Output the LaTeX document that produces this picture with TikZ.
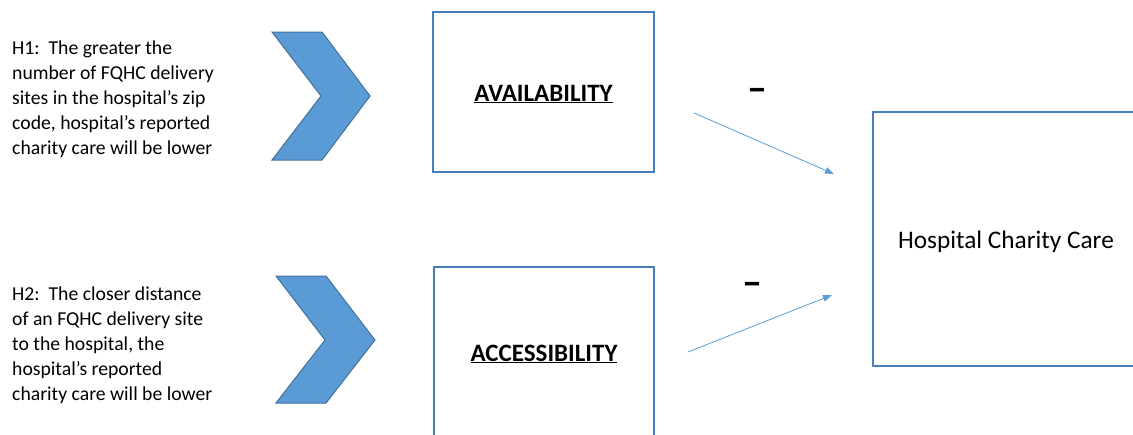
\documentclass[tikz,border=0pt]{standalone}
\usepackage{fontspec}
\setmainfont{Carlito}
\usetikzlibrary{arrows.meta}
\definecolor{boxblue}{HTML}{4A7EBB}
\definecolor{chevfill}{HTML}{5B9BD5}
\definecolor{chevline}{HTML}{41719C}
\definecolor{arrowblue}{HTML}{5B9BD5}
\begin{document}
\begin{tikzpicture}[x=1pt,y=-1pt,
  box/.style={draw=boxblue,line width=1.6pt,fill=none,inner sep=0pt},
  chev/.style={fill=chevfill,draw=chevline,line width=1pt,line join=miter},
  hyp/.style={anchor=north west,inner sep=0pt,align=left,font=\fontsize{19.7}{25}\selectfont},
  title/.style={inner sep=0pt,font=\fontsize{25}{30}\selectfont\bfseries},
  minus/.style={inner sep=0pt,font=\fontsize{40}{40}\selectfont\bfseries},
  link/.style={draw=arrowblue,line width=0.8pt,-{Triangle[length=9pt,width=6.5pt]}}]
\useasboundingbox (0,0) rectangle (1133,434);
\clip (0,0) rectangle (1133,434);
% hypotheses
\node[hyp] (h1) at (12,41) {H1:\ \ The greater the\\number of FQHC delivery\\sites in the hospital’s zip\\code, hospital’s reported\\charity care will be lower};
\node[hyp] (h2) at (12,287) {H2:\ \ The closer distance\\of an FQHC delivery site\\to the hospital, the\\hospital’s reported\\charity care will be lower};
% chevrons
\draw[chev] (272,32) -- (322,32) -- (370,96) -- (322,160) -- (272,160) -- (321,96) -- cycle;
\draw[chev] (276,276) -- (326,276) -- (375,340) -- (326,403) -- (276,403) -- (325,340) -- cycle;
% boxes
\node[box,minimum width=221pt,minimum height=160pt] (avail) at (543.5,92) {};
\node[title] (availt) at (543.5,94) {\underline{AVAILABILITY}};
\node[box,minimum width=220pt,minimum height=190pt] (access) at (544,362) {};
\node[title] (accesst) at (544,354) {\underline{ACCESSIBILITY}};
\node[box,minimum width=280pt,minimum height=254pt] (hcc) at (1013,239) {};
\node[inner sep=0pt,font=\fontsize{25.3}{30}\selectfont] (hcct) at (1006,242) {Hospital Charity Care};
% connectors
\coordinate (a1s) at (694,113);
\coordinate (a1e) at (834,174);
\coordinate (a2s) at (688,352);
\coordinate (a2e) at (832,295);
\draw[link] (a1s) -- (a1e);
\draw[link] (a2s) -- (a2e);
\node[minus] (m1) at (757,95) {–};
\node[minus] (m2) at (752,289) {–};
\end{tikzpicture}
\end{document}
